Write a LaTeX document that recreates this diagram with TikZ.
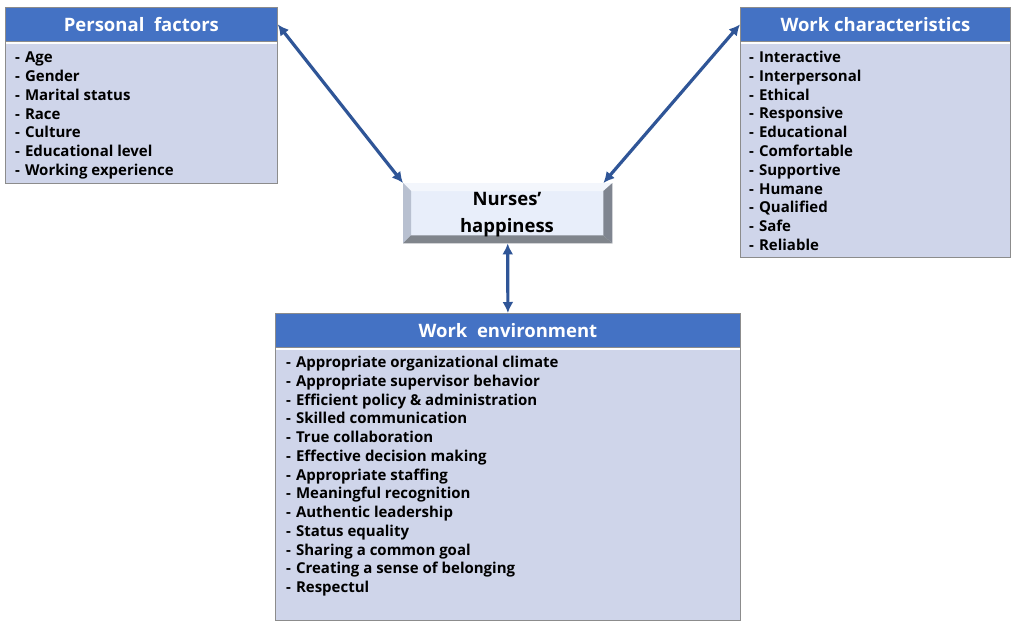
\documentclass[tikz,border=0pt]{standalone}
\usepackage{fontspec}
\setmainfont{Open Sans}
\usetikzlibrary{arrows.meta,calc}
\definecolor{hblue}{HTML}{4472C4}
\definecolor{bodyfill}{HTML}{CFD5EA}
\definecolor{edgegray}{HTML}{8C8C8C}
\definecolor{arrowblue}{HTML}{2F5597}
\definecolor{faceblue}{HTML}{E8EEFA}
\definecolor{toplight}{HTML}{F3F6FC}
\definecolor{leftbev}{HTML}{B8C0D0}
\definecolor{rightbev}{HTML}{7F8590}
\definecolor{botbev}{HTML}{80858C}
\begin{document}
\begin{tikzpicture}[x=1pt,y=-1pt,
  hdr/.style={fill=hblue, draw=edgegray, line width=0.8pt, inner sep=0pt, anchor=north west},
  hdrtext/.style={text=white, font=\bfseries\fontsize{18.5}{20}\selectfont, inner sep=0pt},
  bodybox/.style={fill=bodyfill, draw=edgegray, line width=1.4pt, inner sep=0pt, anchor=north west},
  sep/.style={draw=white, line width=2pt},
  item/.style={anchor=base west, inner sep=0pt, font=\bfseries\fontsize{15}{17}\selectfont},
  link/.style={draw=arrowblue, line width=3.2pt, {Latex[length=11pt,width=11pt]}-{Latex[length=11pt,width=11pt]}}
]
\useasboundingbox (0,0) rectangle (1024,627);
\fill[white] (0,0) rectangle (1024,627);

% Personal factors
\node[bodybox, minimum width=272pt, minimum height=141pt] (pfb) at (5,42) {};
\node[hdr, minimum width=272pt, minimum height=34pt] (pfh) at (5,7) {};
\draw[sep] ([xshift=0.5pt,yshift=-1.2pt]pfh.south west) -- ([xshift=-0.5pt,yshift=-1.2pt]pfh.south east);
\node[hdrtext] (pft) at (pfh.center) {Personal\ \ factors};
\foreach \t [count=\i from 0] in {Age,Gender,Marital\ status,Race,Culture,Educational level,Working\ experience}
  \node[item] (pf\i) at (15,62.5+18.85*\i) {-\hspace{5pt}\t};

% Work characteristics
\node[bodybox, minimum width=270pt, minimum height=215pt] (wcb) at (740,42) {};
\node[hdr, minimum width=270pt, minimum height=34pt] (wch) at (740,7) {};
\draw[sep] ([xshift=0.5pt,yshift=-1.2pt]wch.south west) -- ([xshift=-0.5pt,yshift=-1.2pt]wch.south east);
\node[hdrtext] (wct) at (wch.center) {Work characteristics};
\foreach \t [count=\i from 0] in {Interactive,Interpersonal,Ethical,Responsive,Educational,Comfortable,Supportive,Humane,Qualified,Safe,Reliable}
  \node[item] (wc\i) at (749,62.5+18.8*\i) {-\hspace{5pt}\t};

% Work environment
\node[bodybox, minimum width=465pt, minimum height=272pt] (web) at (275,348) {};
\node[hdr, minimum width=465pt, minimum height=34pt] (weh) at (275,313) {};
\draw[sep] ([xshift=0.5pt,yshift=-1.2pt]weh.south west) -- ([xshift=-0.5pt,yshift=-1.2pt]weh.south east);
\node[hdrtext] (wet) at (weh.center) {Work\ \ environment};
\foreach \t [count=\i from 0] in {Appropriate\ organizational climate,Appropriate\ supervisor behavior,Efficient policy \& administration,Skilled\ communication,True collaboration,Effective decision\ making,Appropriate\ staffing,Meaningful recognition,Authentic leadership,Status equality,Sharing a common goal,Creating a sense of belonging,Respectul}
  \node[item] (we\i) at (286,367.5+18.75*\i) {-\hspace{5pt}\t};

% Nurses' happiness (bevel box)
\node[inner sep=0pt, minimum width=209pt, minimum height=60pt, anchor=north west] (nh) at (403,183) {};
\fill[faceblue] (nh.north west) rectangle (nh.south east);
\fill[toplight] (nh.north west) -- (nh.north east) -- ($(nh.north east)+(-9,8)$) -- ($(nh.north west)+(8,8)$) -- cycle;
\fill[leftbev] (nh.north west) -- ($(nh.north west)+(8,8)$) -- ($(nh.south west)+(8,-8)$) -- (nh.south west) -- cycle;
\fill[rightbev] (nh.north east) -- ($(nh.north east)+(-9,8)$) -- ($(nh.south east)+(-9,-8)$) -- (nh.south east) -- cycle;
\fill[botbev] (nh.south west) -- ($(nh.south west)+(8,-8)$) -- ($(nh.south east)+(-9,-8)$) -- (nh.south east) -- cycle;
\node[align=center, inner sep=0pt, font=\bfseries\fontsize{18.5}{27}\selectfont] (nht) at (507,215) {Nurses’\\happiness};

% connectors
\draw[link] (pfh.east) -- (nh.north west);
\draw[link] (wch.west) -- ($(nh.north east)+(-9,0)$);
\draw[link] (nh.south) -- (weh.north);
\end{tikzpicture}
\end{document}
